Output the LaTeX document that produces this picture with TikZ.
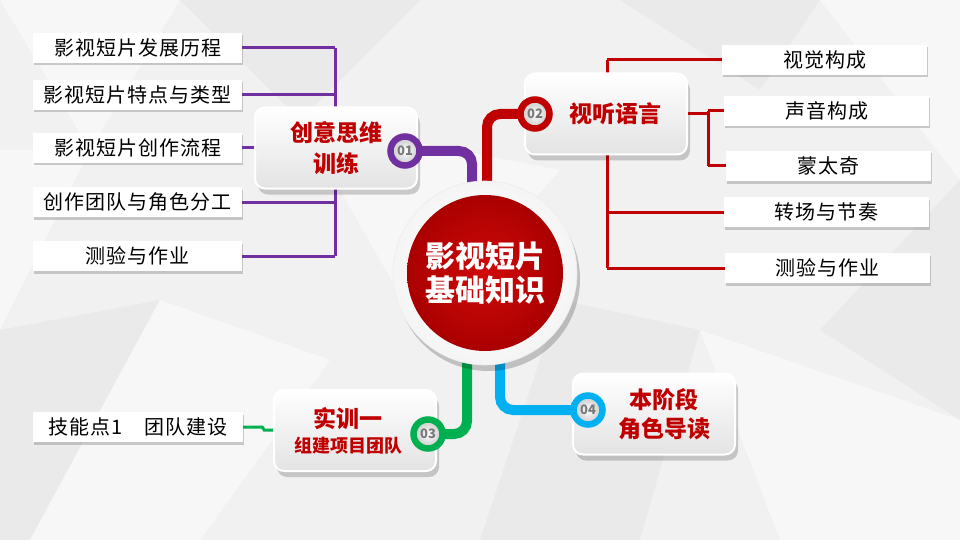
\documentclass[tikz,border=0pt]{standalone}
\usepackage{fontspec}
\setmainfont{Noto Sans CJK SC}
\usetikzlibrary{shadows}
\definecolor{purp}{RGB}{112,48,160}
\definecolor{redc}{RGB}{192,0,0}
\definecolor{redl}{RGB}{208,10,10}
\definecolor{redd}{RGB}{170,0,0}
\definecolor{greenc}{RGB}{0,176,80}
\definecolor{bluec}{RGB}{0,176,240}
\definecolor{bgc}{RGB}{241,241,241}
\definecolor{bgl}{RGB}{247,247,247}
\definecolor{bgd}{RGB}{234,234,234}
\definecolor{numc}{RGB}{120,120,120}
\tikzset{
  leaf/.style={fill=white, minimum width=209pt, minimum height=30pt, inner sep=0pt,
    font=\fontsize{20}{20}\selectfont\addfontfeature{LetterSpace=5},
    drop shadow={opacity=0.35, shadow xshift=1pt, shadow yshift=-2.5pt, fill=black!55}},
  topic/.style={rounded corners=10pt, top color=white, bottom color=gray!22, draw=white,
    line width=2pt, minimum width=162pt, minimum height=81pt, inner sep=0pt, text=redc,
    align=center, font=\bfseries\fontsize{23}{31}\selectfont,
    drop shadow={opacity=0.18, shadow xshift=3pt, shadow yshift=-6pt, fill=black}},
  badge/.style={circle, draw=#1, line width=6.5pt, minimum size=29pt, inner sep=0pt,
    inner color=white, outer color=gray!45, text=numc,
    font=\bfseries\fontsize{13}{13}\selectfont},
  trunk/.style={line width=10pt, rounded corners=13pt},
  branch/.style={line width=3pt}
}
\begin{document}
\begin{tikzpicture}[x=1pt,y=-1pt]
\useasboundingbox (0,0) rectangle (960,540);
% background low-poly
\fill[bgc] (0,0) rectangle (960,540);
\fill[bgl] (0,0) -- (180,0) -- (90,150) -- cycle;
\fill[bgd] (180,0) -- (420,0) -- (300,120) -- cycle;
\fill[bgl] (90,150) -- (0,330) -- (0,150) -- cycle;
\fill[bgd] (0,330) -- (160,300) -- (30,540) -- (0,540) -- cycle;
\fill[bgl] (160,300) -- (330,360) -- (200,540) -- (30,540) -- cycle;
\fill[bgd] (620,0) -- (820,0) -- (760,90) -- cycle;
\fill[bgl] (820,0) -- (960,0) -- (960,180) -- cycle;
\fill[bgd] (960,180) -- (960,420) -- (820,330) -- cycle;
\fill[bgl] (700,330) -- (960,420) -- (960,540) -- (780,540) -- cycle;
\fill[bgd] (560,300) -- (700,330) -- (640,540) -- (480,540) -- cycle;
\fill[bgl] (300,120) -- (560,170) -- (420,330) -- cycle;

% coordinates
\coordinate (bx) at (335,0);
\coordinate (rx) at (607,0);
\coordinate (sx) at (708,0);
\coordinate (cp) at (472,230);
\coordinate (cr) at (487,230);
\coordinate (cg) at (467,320);
\coordinate (cb) at (500,320);

% leaves left
\node[leaf] (L1) at (137.5,48) {影视短片发展历程};
\node[leaf] (L2) at (137.5,95) {影视短片特点与类型};
\node[leaf] (L3) at (137.5,148) {影视短片创作流程};
\node[leaf] (L4) at (137.5,202) {创作团队与角色分工};
\node[leaf] (L5) at (137.5,256) {测验与作业};
% leaves right
\node[leaf, minimum width=205pt] (R1) at (824.5,60) {视觉构成};
\node[leaf, minimum width=205pt] (R2) at (826.5,111) {声音构成};
\node[leaf, minimum width=205pt] (R3) at (828.5,166) {蒙太奇};
\node[leaf, minimum width=205pt] (R4) at (826.5,212) {转场与节奏};
\node[leaf, minimum width=205pt] (R5) at (827.5,268) {测验与作业};
% leaf bottom
\node[leaf, minimum width=210pt] (K) at (138,427) {技能点1\hspace{1.1em}团队建设};

% purple branches
\draw[purp, branch] (bx |- L1) -- (bx |- L5);
\draw[purp, branch] (L1.east) -- (bx |- L1);
\draw[purp, branch] (L2.east) -- (bx |- L2);
\draw[purp, branch] (L4.east) -- (bx |- L4);
\draw[purp, branch] (L5.east) -- (bx |- L5);
% red branches
\draw[redc, branch] (rx |- R1) -- (rx |- R5);
\draw[redc, branch] (rx |- R1) -- (R1.west);
\draw[redc, branch] (rx |- R4) -- (R4.west);
\draw[redc, branch] (rx |- R5) -- (R5.west);

% trunks
\node[badge=purp] (b1) at (405,151) {01};
\node[badge=redc] (b2) at (535,114) {02};
\node[badge=greenc] (b3) at (428,434) {03};
\node[badge=bluec] (b4) at (588,410) {04};
\draw[purp, trunk] (b1.center) -| (cp);
\draw[redc, trunk] (b2.center) -| (cr);
\draw[greenc, trunk] (b3.center) -| (cg);
\draw[bluec, trunk] (b4.center) -| (cb);

% topic boxes
\node[topic] (T1) at (336,148) {创意思维\\训练};
\node[topic] (T2) at (606,114) {\hspace*{18pt}视听语言};
\node[topic, font=\bfseries\fontsize{23}{27}\selectfont] (T3) at (355,430.5) {\hspace*{-14pt}实训一\\[-2pt]\hspace*{-14pt}{\fontsize{18}{20}\selectfont 组建项目团队}};
\node[topic, font=\bfseries\fontsize{23}{29}\selectfont] (T4) at (654,414) {\hspace*{20pt}本阶段\\\hspace*{20pt}角色导读};

% connections next to topics
\draw[purp, branch] (L3.east) -- (L3.east -| T1.west);
\draw[redc, branch] (T2.east) -- (sx |- T2);
\draw[redc, branch] (sx |- R2) -- (sx |- R3);
\draw[redc, branch] (sx |- R2) -- (R2.west);
\draw[redc, branch] (sx |- R3) -- (R3.west);
\draw[greenc, branch] (K.east) -- ++(19,0) -- ++(2,3) -- (T3.west |- 0,430);

% badges on top
\node[badge=purp] at (b1) {01};
\node[badge=redc] at (b2) {02};
\node[badge=greenc] at (b3) {03};
\node[badge=bluec] at (b4) {04};

% centre
\node[circle, minimum size=184pt, inner sep=0pt, inner color=white, outer color=gray!8,
  draw=gray!15, line width=0.6pt,
  drop shadow={opacity=0.2, shadow xshift=3pt, shadow yshift=-6pt, fill=black}] (ctr) at (485,273) {};
\node[circle, minimum size=156pt, inner sep=0pt, inner color=redl, outer color=redd,
  text=white, align=center, font=\bfseries\fontsize{30}{34}\selectfont] (ctrin) at (ctr) {影视短片\\基础知识};
\end{tikzpicture}
\end{document}
